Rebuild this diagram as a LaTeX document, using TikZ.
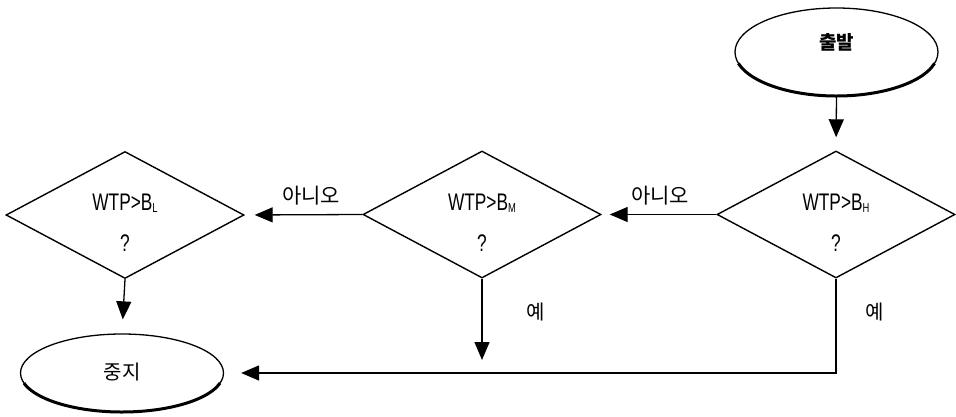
\documentclass[tikz,border=0pt]{standalone}
\usepackage{fontspec}
\setmainfont{Liberation Sans}[FakeStretch=0.72]
\newfontfamily\cjk{Noto Sans CJK KR}
\usetikzlibrary{shapes.geometric,arrows.meta,calc}
\tikzset{
  decision/.style={draw, line width=1.4pt, shape=diamond, inner sep=0pt, aspect=1.87, minimum width=238pt, minimum height=127pt},
  terminal/.style={draw, line width=1.3pt, shape=ellipse, inner sep=0pt, minimum width=203pt, minimum height=%
  #1},
  lat/.style={font=\fontsize{24}{26}\selectfont, inner sep=0pt},
  kor/.style={font=\cjk\fontsize{20}{22}\selectfont, inner sep=0pt},
  kno/.style={font=\cjk\fontsize{21}{23}\selectfont, inner sep=0pt},
  arr/.style={line width=1.3pt, -{Triangle[width=15pt,length=18pt]}},
  thickedge/.style={line width=3pt}
}
\newcommand{\wtp}[1]{WTP>B\raisebox{-2pt}{\fontsize{13}{13}\selectfont #1}}
\begin{document}
\begin{tikzpicture}[x=1pt,y=-1pt]
\useasboundingbox (0,0) rectangle (956,417);
% terminals
\node[terminal=88pt] (start) at (836.5,52) {};
\draw[thickedge] (836.5,52) ++(15:101.5 and 44) arc[start angle=15, end angle=165, x radius=101.5, y radius=44];
\node[kor, font=\cjk\bfseries\fontsize{19}{21}\selectfont] (tstart) at (836.5,42) {출발};
\node[terminal=78pt] (stop) at (122,373) {};
\draw[thickedge] (122,373) ++(15:101.5 and 39) arc[start angle=15, end angle=165, x radius=101.5, y radius=39];
\node[kor] (tstop) at (122,372) {중지};
% decisions
\node[decision] (H) at (836,214.5) {};
\node[decision] (M) at (482,214.5) {};
\node[decision] (L) at (125,215) {};
\node[lat] (tH) at (836,203) {\wtp{H}};
\node[lat] (qH) at (836,243) {?};
\node[lat] (tM) at (482,203) {\wtp{M}};
\node[lat] (qM) at (482,243) {?};
\node[lat] (tL) at (125,203) {\wtp{L}};
\node[lat] (qL) at (125,243) {?};
% connectors
\draw[arr, shorten >=13pt] (start.south) -- (H.north);
\draw[arr, shorten >=8pt] (H.west) -- (M.east);
\draw[arr, shorten >=10pt] (M.west) -- (L.east);
\draw[arr, shorten >=14pt] (L.south) -- (stop.north);
\coordinate (mend) at (482,360);
\draw[arr] (M.south) -- (mend);
\draw[arr, shorten >=17pt] (H.south) |- (stop.east);
% labels
\node[kno] (noH) at (660,196) {아니오};
\node[kno] (noM) at (311,196) {아니오};
\node[kor] (yesM) at (536,312) {예};
\node[kor] (yesH) at (875,312) {예};
\end{tikzpicture}
\end{document}
